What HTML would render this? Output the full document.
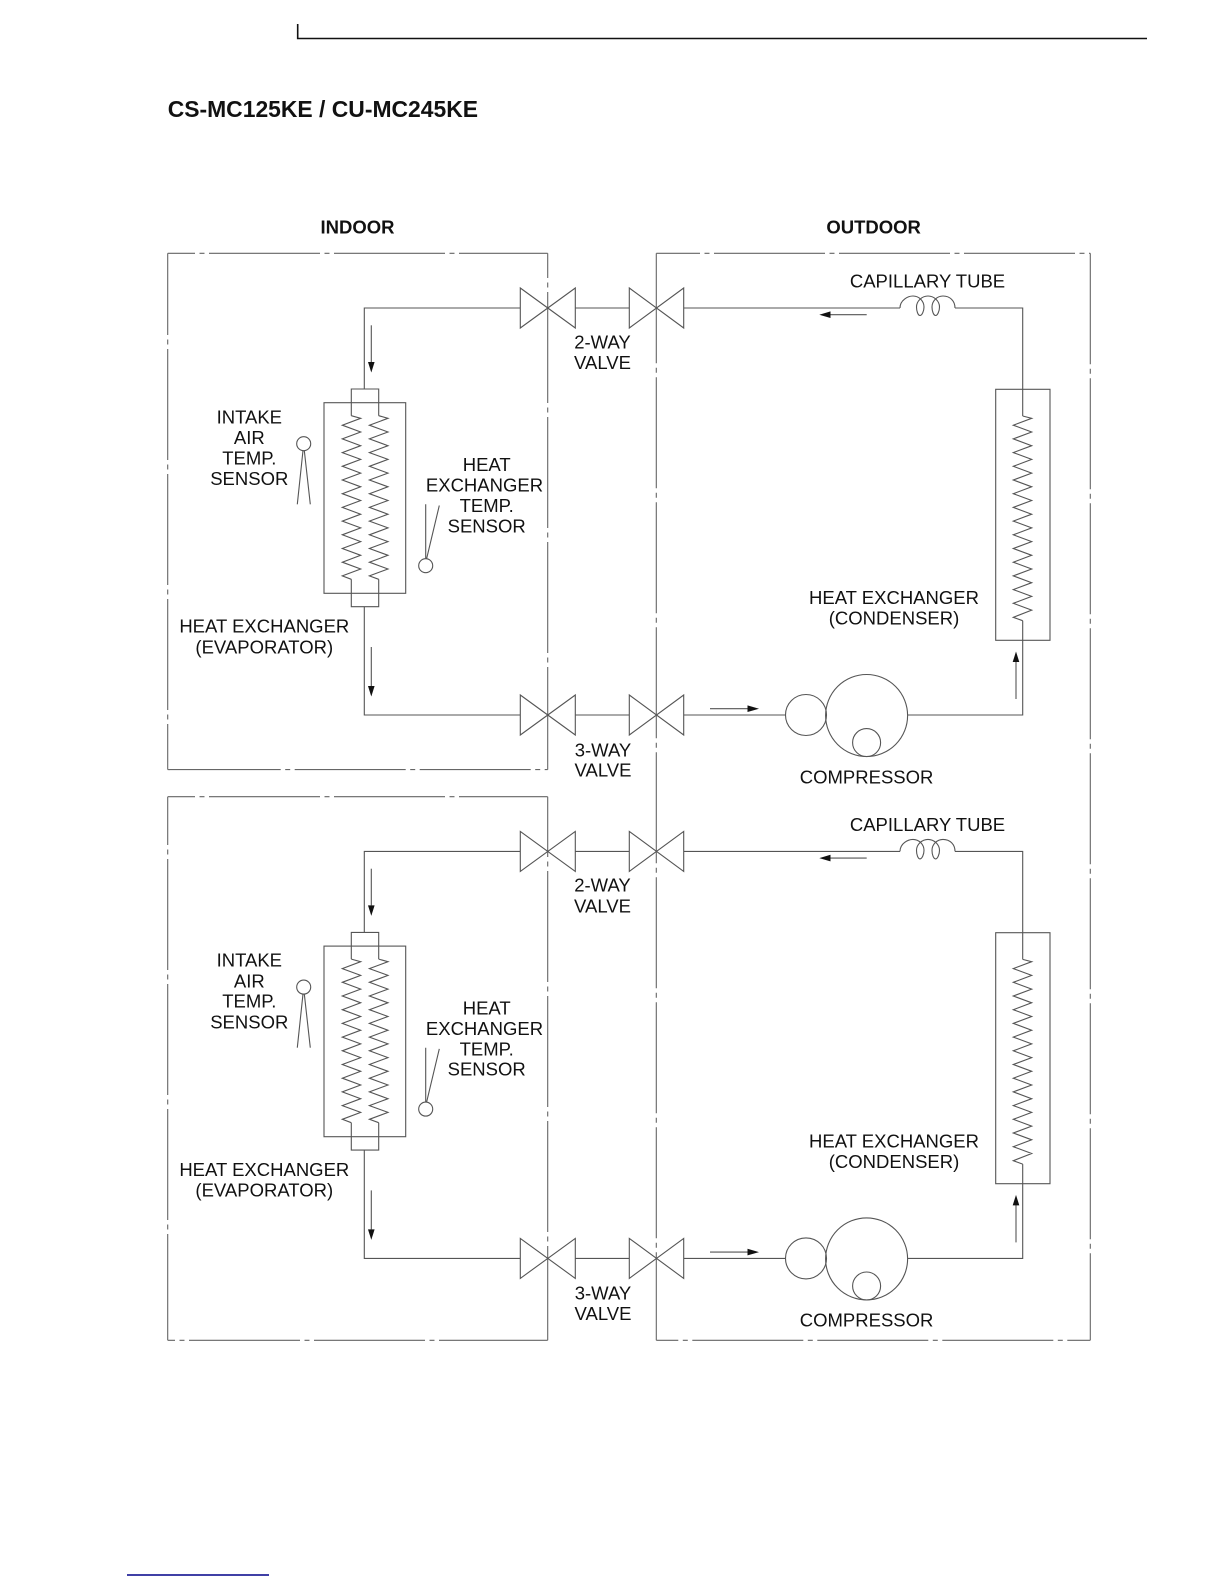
<!DOCTYPE html>
<html><head><meta charset="utf-8"><title>CS-MC125KE / CU-MC245KE</title>
<style>
html,body{margin:0;padding:0;background:#fff}
svg{display:block}
text{font-family:"Liberation Sans",sans-serif;fill:#111;font-size:18.5px;text-anchor:middle}
.b{font-weight:bold}
.l{fill:none;stroke:#555;stroke-width:1.1}
.d{fill:none;stroke:#666;stroke-width:1.1;stroke-dasharray:111 4.5 5 4.5}
.a{fill:#111;stroke:none}
</style></head><body>
<svg width="1224" height="1584" viewBox="0 0 1224 1584" xmlns="http://www.w3.org/2000/svg">
<rect width="1224" height="1584" fill="#fff"/>
<path d="M297.7 24V38.5H1147" fill="none" stroke="#111" stroke-width="1.6"/>
<path d="M127 1575H269" fill="none" stroke="#000088" stroke-width="1.5"/>
<text class="b" x="167.7" y="117" style="font-size:22.9px;text-anchor:start">CS-MC125KE / CU-MC245KE</text>
<text class="b" x="357.5" y="233.3" style="font-size:18.5px">INDOOR</text>
<text class="b" x="873.6" y="233.3" style="font-size:18.5px">OUTDOOR</text>

<!-- boundaries -->
<line class="d" x1="167.7" y1="253.3" x2="547.7" y2="253.3" stroke-dashoffset="83.7"/>
<line class="d" x1="167.7" y1="253.3" x2="167.7" y2="769.6" stroke-dashoffset="29.3"/>
<line class="d" x1="547.7" y1="253.3" x2="547.7" y2="769.6" stroke-dashoffset="86.3"/>
<path class="d" style="stroke-dasharray:none" d="M167.7 769.6H170"/>
<line class="d" x1="169.7" y1="769.6" x2="547.7" y2="769.6"/>
<line class="d" x1="167.7" y1="796.7" x2="547.7" y2="796.7" stroke-dashoffset="83.7"/>
<line class="d" x1="167.7" y1="796.7" x2="167.7" y2="1340.3" stroke-dashoffset="62.7"/>
<line class="d" x1="547.7" y1="796.7" x2="547.7" y2="1340.3" stroke-dashoffset="50.7"/>
<line class="d" x1="167.7" y1="1340.3" x2="547.7" y2="1340.3" stroke-dashoffset="103.7"/>
<line class="d" x1="656.3" y1="253.3" x2="1090.3" y2="253.3" stroke-dashoffset="67.3"/>
<line class="d" x1="656.3" y1="253.3" x2="656.3" y2="1340.3" stroke-dashoffset="1"/>
<line class="d" x1="1090.3" y1="253.3" x2="1090.3" y2="1340.3" stroke-dashoffset="0"/>
<line class="d" x1="656.3" y1="1340.3" x2="1090.3" y2="1340.3" stroke-dashoffset="89"/>

<defs>
<g id="u">
<!-- valves -->
<path class="l" d="M520.3 288L575.3 328V288L520.3 328Z"/>
<path class="l" d="M629.3 288L683.7 328V288L629.3 328Z"/>
<path class="l" d="M629.3 695L683.7 735V695L629.3 735Z"/>
<path class="l" d="M520.3 695L575.3 735V695L520.3 735Z"/>
<!-- pipes -->
<path class="l" d="M520.3 308H364.3V389"/>
<path class="l" d="M575.3 308H629.3"/>
<path class="l" d="M364.3 606.7V715H520.3"/>
<path class="l" d="M575.3 715H629.3"/>
<path class="l" d="M683.7 715H785.5"/>
<path class="l" d="M907.6 715H1022.7V620.7"/>
<path class="l" d="M683.7 308H900"/>
<path class="l" d="M955 308H1022.7V416"/>
<!-- capillary -->
<path class="l" d="M900 308C900 300 908 296 913 296C919 296 924 301 924 307C924 311 922 315.5 920 315.5C918 315.5 916.5 311 916.5 307C916.5 301 922 296 928 296C934 296 939.5 301 939.5 307C939.5 311 937.5 315.5 935.7 315.5C933.5 315.5 932 311 932 307C932 301 937 296 943 296C950 296 955 301 955 308"/>
<!-- evaporator -->
<rect class="l" x="324" y="402.7" width="81.7" height="190.6"/>
<path class="l" d="M351.3 415.7V389H378.7V415.7"/>
<path class="l" d="M351.3 579.3V606.7H378.7V579.3"/>
<path class="l" d="M351.3 415.7L360.7 418.3 l-18.4 6.9l18.4 6.8 l-18.4 6.9l18.4 6.8 l-18.4 6.9l18.4 6.8 l-18.4 6.9l18.4 6.8 l-18.4 6.9l18.4 6.8 l-18.4 6.9l18.4 6.8 l-18.4 6.9l18.4 6.8 l-18.4 6.9l18.4 6.8 l-18.4 6.9l18.4 6.8 l-18.4 6.9l18.4 6.8 l-18.4 6.9l18.4 6.8 l-18.4 6.9 L351.3 579.3"/>
<path class="l" d="M378.7 415.7L388 418.3 l-18.6 6.9l18.6 6.8 l-18.6 6.9l18.6 6.8 l-18.6 6.9l18.6 6.8 l-18.6 6.9l18.6 6.8 l-18.6 6.9l18.6 6.8 l-18.6 6.9l18.6 6.8 l-18.6 6.9l18.6 6.8 l-18.6 6.9l18.6 6.8 l-18.6 6.9l18.6 6.8 l-18.6 6.9l18.6 6.8 l-18.6 6.9l18.6 6.8 l-18.6 6.9 L378.7 579.3"/>
<!-- condenser -->
<rect class="l" x="995.7" y="389.3" width="54.3" height="251"/>
<path class="l" d="M1022.7 416L1031.7 418.3 l-18.4 6.9l18.4 6.8 l-18.4 6.9l18.4 6.8 l-18.4 6.9l18.4 6.8 l-18.4 6.9l18.4 6.8 l-18.4 6.9l18.4 6.8 l-18.4 6.9l18.4 6.8 l-18.4 6.9l18.4 6.8 l-18.4 6.9l18.4 6.8 l-18.4 6.9l18.4 6.8 l-18.4 6.9l18.4 6.8 l-18.4 6.9l18.4 6.8 l-18.4 6.9l18.4 6.8 l-18.4 6.9l18.4 6.8 l-18.4 6.9l18.4 6.8 L1013.3 617.3L1022.7 620.7"/>
<!-- compressor -->
<circle class="l" cx="806" cy="715" r="20.5"/>
<circle class="l" cx="866.6" cy="715.5" r="41"/>
<circle class="l" cx="866.6" cy="742.6" r="14"/>
<!-- sensors -->
<circle class="l" cx="303.7" cy="443.7" r="7"/>
<path class="l" d="M303 450.5L297.3 504.3M304.3 450.5L310.3 504.3"/>
<circle class="l" cx="425.7" cy="565.7" r="7"/>
<path class="l" d="M425.7 558.7V504.3M426.6 558.7L439.3 505.5"/>
<!-- arrows -->
<path class="l" d="M371.3 325.3V362"/><path class="a" d="M368 362H374.6L371.3 372.5Z"/>
<path class="l" d="M371.3 647V686"/><path class="a" d="M368 686H374.6L371.3 696.5Z"/>
<path class="l" d="M710 708.7H748"/><path class="a" d="M747.5 705.4V712L759 708.7Z"/>
<path class="l" d="M1016 699V661"/><path class="a" d="M1012.7 662H1019.3L1016 651.5Z"/>
<path class="l" d="M866.7 314.7H830"/><path class="a" d="M830.5 311.4V318L819.3 314.7Z"/>
</g>
</defs>
<use href="#u"/>
<use href="#u" y="543.4"/>

<!-- upper labels -->
<text x="249.3" y="423.3">INTAKE</text><text x="249.3" y="444">AIR</text><text x="249.3" y="464.3">TEMP.</text><text x="249.3" y="485">SENSOR</text>
<text x="486.7" y="471">HEAT</text><text x="484.5" y="491.7">EXCHANGER</text><text x="486.7" y="512">TEMP.</text><text x="486.7" y="532.3">SENSOR</text>
<text x="264.3" y="632.7">HEAT EXCHANGER</text><text x="264.3" y="653.3">(EVAPORATOR)</text>
<text x="602.5" y="348.3">2-WAY</text><text x="602.5" y="369">VALVE</text>
<text x="603" y="756.3">3-WAY</text><text x="603" y="776.5">VALVE</text>
<text x="866.6" y="783.3">COMPRESSOR</text>
<text x="927.5" y="287.7">CAPILLARY TUBE</text>
<text x="894" y="604">HEAT EXCHANGER</text><text x="894" y="624.5">(CONDENSER)</text>

<!-- lower labels -->
<text x="249.3" y="966.7">INTAKE</text><text x="249.3" y="987.4">AIR</text><text x="249.3" y="1007.7">TEMP.</text><text x="249.3" y="1028.4">SENSOR</text>
<text x="486.7" y="1014.4">HEAT</text><text x="484.5" y="1035.1">EXCHANGER</text><text x="486.7" y="1055.4">TEMP.</text><text x="486.7" y="1075.7">SENSOR</text>
<text x="264.3" y="1176.1">HEAT EXCHANGER</text><text x="264.3" y="1196.7">(EVAPORATOR)</text>
<text x="602.5" y="891.7">2-WAY</text><text x="602.5" y="912.4">VALVE</text>
<text x="603" y="1299.7">3-WAY</text><text x="603" y="1319.9">VALVE</text>
<text x="866.6" y="1326.7">COMPRESSOR</text>
<text x="927.5" y="831.1">CAPILLARY TUBE</text>
<text x="894" y="1147.4">HEAT EXCHANGER</text><text x="894" y="1167.9">(CONDENSER)</text>
</svg>
</body></html>
